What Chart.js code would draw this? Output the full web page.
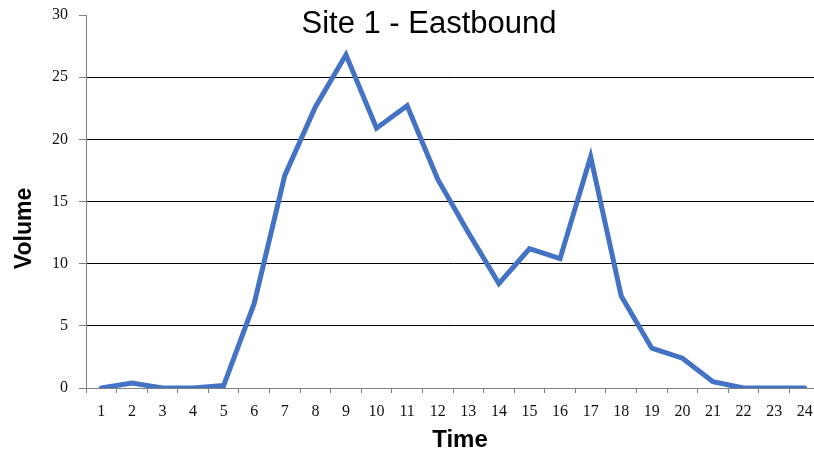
<!DOCTYPE html>
<html>
<head>
<meta charset="utf-8">
<title>Site 1 - Eastbound</title>
<script src="https://cdn.jsdelivr.net/npm/chart.js@4/dist/chart.umd.min.js"></script>
<style>
  html, body { margin: 0; padding: 0; background: #fff; overflow: hidden; }
  canvas { display: block; }
</style>
</head>
<body>
<canvas id="chart" width="830" height="451"></canvas>
<script>
// Hourly traffic volume, eastbound direction
const hours = ['1','2','3','4','5','6','7','8','9','10','11','12','13','14','15','16','17','18','19','20','21','22','23','24'];
const volume = [0, 0.4, 0, 0, 0.2, 6.8, 17.1, 22.6, 26.8, 20.9, 22.7, 16.8, 12.5, 8.4, 11.2, 10.4, 18.6, 7.4, 3.2, 2.4, 0.5, 0, 0, 0];
const yTicks = [0, 5, 10, 15, 20, 25, 30];

const chartTitle = 'Site 1 - Eastbound';
const xTitle = 'Time';
const yTitle = 'Volume';

// Titles drawn at fixed spots so the plot area keeps its own size
const titlesPlugin = {
  id: 'titles',
  afterDraw(chart) {
    const ctx = chart.ctx;
    ctx.save();
    ctx.fillStyle = '#000';
    ctx.textAlign = 'center';
    ctx.textBaseline = 'alphabetic';
    ctx.font = '31px "Liberation Sans", Arial, sans-serif';
    ctx.fillText(chartTitle, 429, 33);
    ctx.font = 'bold 24px "Liberation Sans", Arial, sans-serif';
    ctx.fillText(xTitle, 460, 447);
    ctx.translate(25, 228.5);
    ctx.rotate(-Math.PI / 2);
    ctx.textBaseline = 'middle';
    ctx.font = 'bold 23px "Liberation Sans", Arial, sans-serif';
    ctx.fillText(yTitle, 0, 0);
    ctx.restore();
  }
};

new Chart(document.getElementById('chart'), {
  type: 'line',
  data: {
    labels: hours,
    datasets: [{
      data: volume,
      borderColor: '#4472C4',
      borderWidth: 5,
      borderCapStyle: 'round',
      borderJoinStyle: 'miter',
      pointRadius: 0,
      tension: 0,
      fill: false
    }]
  },
  options: {
    responsive: false,
    animation: false,
    devicePixelRatio: 1,
    layout: { padding: { left: 0, top: 15, right: 10, bottom: 0 } },
    plugins: {
      legend: { display: false },
      tooltip: { enabled: false },
      title: { display: false }
    },
    scales: {
      x: {
        type: 'category',
        offset: true,
        afterFit(scale) {
          scale.height = 63;
          scale.paddingLeft = 0;
          scale.paddingRight = 0;
        },
        grid: {
          offset: true,
          drawOnChartArea: false,
          tickLength: 5,
          tickColor: '#808080',
          lineWidth: 1
        },
        border: { color: '#808080', width: 1 },
        ticks: {
          color: '#111',
          font: { family: '"Liberation Serif", "Times New Roman", serif', size: 16 },
          padding: 9,
          maxRotation: 0,
          autoSkip: false
        }
      },
      y: {
        min: 0,
        max: 30,
        afterFit(scale) {
          scale.width = 86;
          scale.paddingTop = 0;
          scale.paddingBottom = 0;
        },
        afterBuildTicks(scale) { scale.ticks = yTicks.map(v => ({ value: v })); },
        grid: {
          color: ctx => (ctx.tick && ctx.tick.value > 0 && ctx.tick.value < 30) ? '#000' : 'rgba(0,0,0,0)',
          tickColor: '#808080',
          tickLength: 7,
          lineWidth: 1
        },
        border: { color: '#808080', width: 1 },
        ticks: {
          color: '#111',
          font: { family: '"Liberation Serif", "Times New Roman", serif', size: 16 },
          padding: 11
        }
      }
    }
  },
  plugins: [titlesPlugin]
});
</script>
</body>
</html>
